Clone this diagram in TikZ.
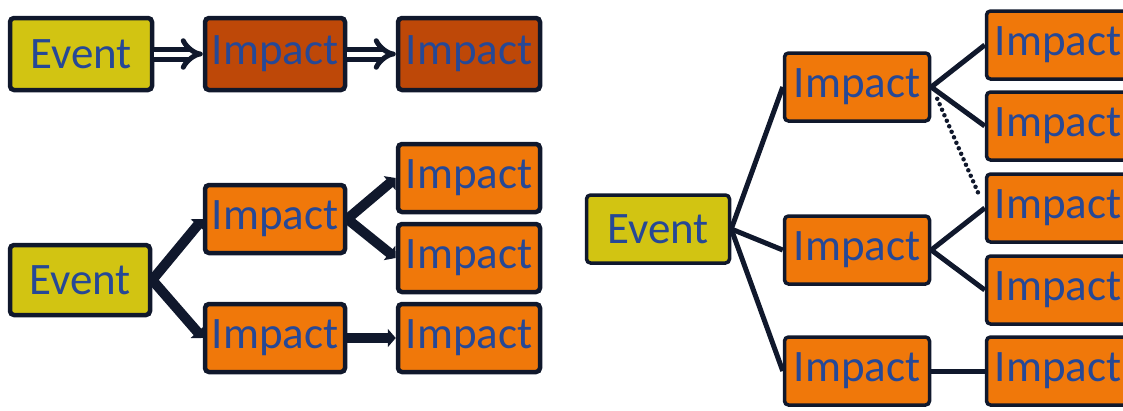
\documentclass[tikz,border=0pt]{standalone}
\usepackage{fontspec}
\setmainfont{Carlito}
\usetikzlibrary{arrows.meta,calc}
\definecolor{evfill}{RGB}{210,196,18}
\definecolor{imfill}{RGB}{240,120,10}
\definecolor{imdark}{RGB}{190,72,8}
\definecolor{bord}{RGB}{16,24,44}
\definecolor{txt}{RGB}{38,72,150}
\tikzset{
  box/.style={rectangle, rounded corners=4pt, draw=bord, line width=4.5pt,
    inner sep=0pt, text=txt, font=\fontsize{45}{48}\selectfont,
    minimum width=140pt, minimum height=68pt},
  evbox/.style={box, fill=evfill},
  imbox/.style={box, fill=imfill},
  imdbox/.style={box, fill=imdark},
  rbox/.style={line width=3.5pt, minimum width=143pt},
  dblarrow/.style={draw=bord, line width=5pt, double=white, double distance=5pt, -{Implies[length=12pt,width=28pt]}},
  thickarrow/.style={draw=bord, line width=10pt, -{Triangle[length=8pt,width=18pt]}},
  thinline/.style={draw=bord, line width=5pt},
  dotline/.style={draw=bord, line width=4.5pt, line cap=round, dash pattern=on 0pt off 6pt}
}
\begin{document}
\begin{tikzpicture}[x=1pt,y=-1pt]
\useasboundingbox (0,0) rectangle (1123,410);
% top-left chain
\node[evbox, minimum width=142pt, minimum height=72pt] (e1) at (81,54) {Event};
\node[imdbox, minimum height=72pt] (t1) at (275,54) {Impact};
\node[imdbox, minimum width=142pt, minimum height=72pt] (t2) at (469,54) {Impact};
\draw[dblarrow] (e1.east) -- (t1.west);
\draw[dblarrow] (t1.east) -- (t2.west);
% bottom-left tree
\node[evbox, minimum height=70pt] (e2) at (80,280) {Event};
\node[imbox] (a1) at (275,219) {Impact};
\node[imbox] (a2) at (275,338) {Impact};
\node[imbox, minimum width=142pt] (b1) at (469,178) {Impact};
\node[imbox, minimum width=142pt] (b2) at (469,258) {Impact};
\node[imbox, minimum width=142pt] (b3) at (469,338) {Impact};
\draw[thickarrow] (e2.east) -- (a1.west);
\draw[thickarrow] (e2.east) -- (a2.west);
\draw[thickarrow] (a1.east) -- (b1.west);
\draw[thickarrow] (a1.east) -- (b2.west);
\draw[thickarrow] (a2.east) -- (b3.west);
% right tree
\node[evbox, rbox] (e3) at (658,229) {Event};
\node[imbox, rbox, minimum width=145pt] (c1) at (857,87) {Impact};
\node[imbox, rbox, minimum width=145pt] (c2) at (857,250) {Impact};
\node[imbox, rbox, minimum width=145pt] (c3) at (857,371) {Impact};
\node[imbox, rbox] (d1) at (1058,45) {Impact};
\node[imbox, rbox] (d2) at (1058,126) {Impact};
\node[imbox, rbox] (d3) at (1058,208) {Impact};
\node[imbox, rbox] (d4) at (1058,290) {Impact};
\node[imbox, rbox] (d5) at (1058,371) {Impact};
\draw[thinline] (e3.east) -- (c1.west);
\draw[thinline] (e3.east) -- (c2.west);
\draw[thinline] (e3.east) -- (c3.west);
\draw[thinline] (c1.east) -- (d1.west);
\draw[thinline] (c1.east) -- (d2.west);
\draw[thinline] (c2.east) -- (d3.west);
\draw[thinline] (c2.east) -- (d4.west);
\draw[thinline] (c3.east) -- (d5.west);
\coordinate (dA) at ($(c1.south east)+(6,-24)$);
\coordinate (dB) at ($(d3.north west)+(-6,22)$);
\draw[dotline] (dA) -- (dB);
\end{tikzpicture}
\end{document}
